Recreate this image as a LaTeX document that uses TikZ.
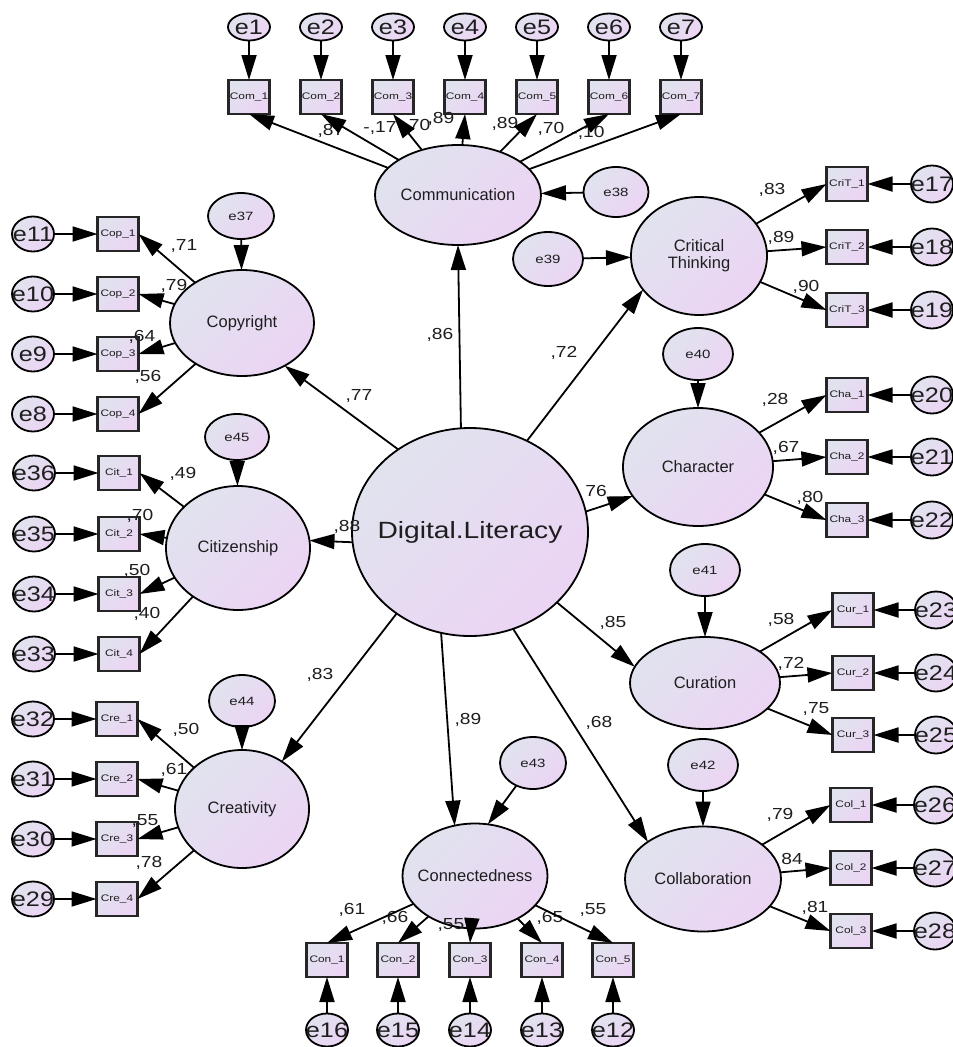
\documentclass[tikz,border=0pt]{standalone}
\usepackage{fontspec}
\setmainfont{Liberation Sans}
\newfontfamily\widesans{Liberation Sans}[FakeStretch=1.2]
\newfontfamily\widersans{Liberation Sans}[FakeStretch=1.25]
\usetikzlibrary{arrows.meta,shapes.geometric}

\definecolor{fillTL}{RGB}{224,227,238}
\definecolor{fillBR}{RGB}{236,212,244}
\definecolor{ink}{RGB}{30,30,30}

\tikzset{
  gradfill/.style={top color=fillTL, bottom color=fillBR, shading angle=45},
  nowidth/.style={execute at begin node={\hbox to 0pt\bgroup\hss}, execute at end node={\hss\egroup}},
  ovalbase/.style={ellipse, draw=black, line width=1.8pt, gradfill, inner sep=0pt, outer sep=0pt, text=ink},
  latent/.style={ovalbase, nowidth, font=\fontsize{16.5}{18}\selectfont},
  latentml/.style={ovalbase, align=center, font=\fontsize{16.5}{17}\selectfont},
  core/.style={ovalbase, nowidth, minimum width=236pt, minimum height=208pt, font=\widesans\fontsize{23.5}{24}\selectfont},
  resid/.style={ovalbase, nowidth, minimum width=68pt, minimum height=52pt, font=\widersans\fontsize{12}{12}\selectfont},
  errtop/.style={ovalbase, nowidth, minimum width=42pt, minimum height=27pt, font=\widesans\fontsize{21}{21}\selectfont},
  errside/.style={ovalbase, nowidth, minimum width=42pt, minimum height=35pt, font=\widesans\fontsize{21}{21}\selectfont},
  item/.style={rectangle, draw=black!85, line width=2.2pt, gradfill, minimum width=41pt, minimum height=34pt, inner sep=0pt, outer sep=0pt, text=ink, font=\widersans\fontsize{9.5}{10}\selectfont},
  coef/.style={inner sep=0pt, text=ink, font=\widesans\fontsize{16}{16}\selectfont},
  arr/.style={draw=black, line width=1.8pt, -{Triangle[length=25pt,width=15pt]}}
}

\begin{document}
\begin{tikzpicture}[x=1pt, y=-1pt]
\path[use as bounding box] (0,0) rectangle (953,1047);
\clip (0,0) rectangle (953,1047);
\fill[white] (0,0) rectangle (953,1047);

% ---------- latent factors ----------
\node[core] (fDL) at (470,532) {Digital.Literacy};
\node[latent, minimum width=166pt, minimum height=100pt] (fComm) at (458,195) {Communication};
\node[latent, minimum width=144pt, minimum height=106pt] (fCopy) at (242,323) {Copyright};
\node[latent, minimum width=144pt, minimum height=124pt] (fCit) at (238,548) {Citizenship};
\node[latent, minimum width=134pt, minimum height=118pt] (fCre) at (242,809) {Creativity};
\node[latent, minimum width=145pt, minimum height=105pt] (fConn) at (475,876) {Connectedness};
\node[latent, minimum width=156pt, minimum height=105pt] (fColl) at (703,879) {Collaboration};
\node[latent, minimum width=150pt, minimum height=92pt] (fCur) at (705,683) {Curation};
\node[latent, minimum width=150pt, minimum height=118pt] (fChar) at (698,467) {Character};
\node[latentml, minimum width=136pt, minimum height=118pt] (fCrit) at (699,256) {Critical\\Thinking};

% ---------- disturbances of the factors ----------
\node[resid, minimum width=66pt, minimum height=46pt] (e37) at (241,216) {e37};
\node[resid, minimum width=64pt, minimum height=46pt] (e45) at (237,437) {e45};
\node[resid, minimum width=66pt] (e44) at (242,701) {e44};
\node[resid, minimum width=66pt] (e43) at (533,763) {e43};
\node[resid, minimum width=65pt, minimum height=50pt] (e38) at (616,192) {e38};
\node[resid, minimum width=70pt, minimum height=54pt] (e39) at (548,259) {e39};
\node[resid, minimum width=70pt] (e40) at (698,354) {e40};
\node[resid, minimum width=70pt] (e41) at (705,570) {e41};
\node[resid, minimum width=70pt] (e42) at (703,765) {e42};

% ---------- Communication items ----------
\foreach \i/\x in {1/249,2/321,3/393,4/465,5/537,6/609,7/681}{
  \node[errtop] (e\i) at (\x,27) {e\i};
  \node[item] (com\i) at (\x,97) {Com\_\i};
}

% ---------- Copyright, Citizenship, Creativity items ----------
\foreach \i/\y/\e in {1/234/11,2/294/10,3/354/9,4/414/8}{
  \node[item] (cop\i) at (118,\y) {Cop\_\i};
  \node[errside] (e\e) at (33,\y) {e\e};
}
\foreach \i/\y/\e in {1/473/36,2/534/35,3/594/34,4/654/33}{
  \node[item] (cit\i) at (119,\y) {Cit\_\i};
  \node[errside] (e\e) at (34,\y) {e\e};
}
\foreach \i/\y/\e in {1/719/32,2/779/31,3/839/30,4/899/29}{
  \node[item] (cre\i) at (117,\y) {Cre\_\i};
  \node[errside] (e\e) at (33,\y) {e\e};
}

% ---------- Connectedness items ----------
\foreach \i/\x/\e in {1/327/16,2/398/15,3/470/14,4/542/13,5/613/12}{
  \node[item] (con\i) at (\x,960) {Con\_\i};
  \node[errside, minimum height=33pt] (e\e) at (\x,1030) {e\e};
}

% ---------- right-hand items ----------
\foreach \i/\y/\e in {1/184/17,2/247/18,3/310/19}{
  \node[item] (crit\i) at (847,\y) {CriT\_\i};
  \node[errside, minimum height=37pt] (e\e) at (932,\y) {e\e};
}
\foreach \i/\y/\e in {1/395/20,2/457/21,3/520/22}{
  \node[item] (cha\i) at (847,\y) {Cha\_\i};
  \node[errside, minimum height=37pt] (e\e) at (932,\y) {e\e};
}
\foreach \i/\y/\e in {1/610/23,2/673/24,3/735/25}{
  \node[item] (cur\i) at (853,\y) {Cur\_\i};
  \node[errside, minimum height=37pt] (e\e) at (936,\y) {e\e};
}
\foreach \i/\y/\e in {1/805/26,2/868/27,3/931/28}{
  \node[item] (col\i) at (851,\y) {Col\_\i};
  \node[errside, minimum height=37pt] (e\e) at (935,\y) {e\e};
}

% ---------- standardized loadings ----------
\node[coef] (kCom1) at (331,131) {,87};
\node[coef] (kCom2) at (380,128) {-,17};
\node[coef] (kCom3) at (417,126) {,70};
\node[coef] (kCom4) at (441,119) {,89};
\node[coef] (kCom5) at (505,124) {,89};
\node[coef] (kCom6) at (551,129) {,70};
\node[coef] (kCom7) at (588,133) {-,10};

\node[coef] (kCop1) at (184,246) {,71};
\node[coef] (kCop2) at (174,286) {,79};
\node[coef] (kCop3) at (142,337) {,64};
\node[coef] (kCop4) at (148,377) {,56};
\node[coef] (kCit1) at (183,474) {,49};
\node[coef] (kCit2) at (140,516) {,70};
\node[coef] (kCit3) at (137,571) {,50};
\node[coef] (kCit4) at (147,614) {,40};
\node[coef] (kCre1) at (186,730) {,50};
\node[coef] (kCre2) at (174,770) {,61};
\node[coef] (kCre3) at (145,821) {,55};
\node[coef] (kCre4) at (149,863) {,78};

\node[coef] (kCon1) at (352,910) {,61};
\node[coef] (kCon2) at (395,918) {,66};
\node[coef] (kCon3) at (451,925) {,55};
\node[coef] (kCon4) at (550,918) {,65};
\node[coef] (kCon5) at (593,910) {,55};

\node[coef] (kCrit1) at (772,190) {,83};
\node[coef] (kCrit2) at (781,238) {,89};
\node[coef] (kCrit3) at (806,287) {,90};
\node[coef] (kCha1) at (775,400) {,28};
\node[coef] (kCha2) at (786,448) {,67};
\node[coef] (kCha3) at (810,498) {,80};
\node[coef] (kCur1) at (781,620) {,58};
\node[coef] (kCur2) at (791,664) {,72};
\node[coef] (kCur3) at (816,709) {,75};
\node[coef] (kCol1) at (780,815) {,79};
\node[coef] (kCol2) at (792,859) {84};
\node[coef] (kCol3) at (815,908) {,81};

% second-order paths
\node[coef] (kComm) at (440,335) {,86};
\node[coef] (kCopy) at (359,396) {,77};
\node[coef] (kCit)  at (347,527) {,88};
\node[coef] (kCre)  at (320,675) {,83};
\node[coef] (kConn) at (468,720) {,89};
\node[coef] (kColl) at (599,723) {,68};
\node[coef] (kCur)  at (613,623) {,85};
\node[coef] (kChar) at (596,491) {76};
\node[coef] (kCrit) at (564,353) {,72};

% ---------- second-order paths ----------
\draw[arr] (fDL.95)  -- (fComm.south);
\draw[arr] (fDL.131) -- (fCopy.-45);
\draw[arr] (fDL.185) -- (fCit.6);
\draw[arr] (fDL.228) -- (fCre.50);
\draw[arr] (fDL.254) -- (fConn.112);
\draw[arr] (fDL.-66) -- (fColl.146);
\draw[arr] (fDL.-39) -- (fCur.167);
\draw[arr] (fDL.10)  -- (fChar.204);
\draw[arr] (fDL.58)  -- (fCrit.211);

% ---------- disturbances ----------
\draw[arr] (e37) -- (fCopy);
\draw[arr] (e45) -- (fCit);
\draw[arr] (e44) -- (fCre);
\draw[arr] (e43) -- (fConn.76);
\draw[arr] (e38) -- (fComm);
\draw[arr] (e39) -- (fCrit);
\draw[arr] (e40) -- (fChar);
\draw[arr] (e41) -- (fCur);
\draw[arr] (e42) -- (fColl);

% ---------- loadings and measurement errors ----------
\foreach \i in {1,...,7}{
  \draw[arr] (fComm) -- (com\i.south);
  \draw[arr] (e\i) -- (com\i);
}
\foreach \i/\e in {1/11,2/10,3/9,4/8}{
  \draw[arr] (fCopy) -- (cop\i.east);
  \draw[arr] (e\e) -- (cop\i);
}
\foreach \i/\e in {1/36,2/35,3/34,4/33}{
  \draw[arr] (fCit) -- (cit\i.east);
  \draw[arr] (e\e) -- (cit\i);
}
\foreach \i/\e in {1/32,2/31,3/30,4/29}{
  \draw[arr] (fCre) -- (cre\i.east);
  \draw[arr] (e\e) -- (cre\i);
}
\foreach \i/\e in {1/16,2/15,3/14,4/13,5/12}{
  \draw[arr] (fConn) -- (con\i.north);
  \draw[arr] (e\e) -- (con\i);
}
\foreach \i/\e in {1/17,2/18,3/19}{
  \draw[arr] (fCrit) -- (crit\i.west);
  \draw[arr] (e\e) -- (crit\i);
}
\foreach \i/\e in {1/20,2/21,3/22}{
  \draw[arr] (fChar) -- (cha\i.west);
  \draw[arr] (e\e) -- (cha\i);
}
\foreach \i/\e in {1/23,2/24,3/25}{
  \draw[arr] (fCur) -- (cur\i.west);
  \draw[arr] (e\e) -- (cur\i);
}
\foreach \i/\e in {1/26,2/27,3/28}{
  \draw[arr] (fColl) -- (col\i.west);
  \draw[arr] (e\e) -- (col\i);
}
\end{tikzpicture}
\end{document}
